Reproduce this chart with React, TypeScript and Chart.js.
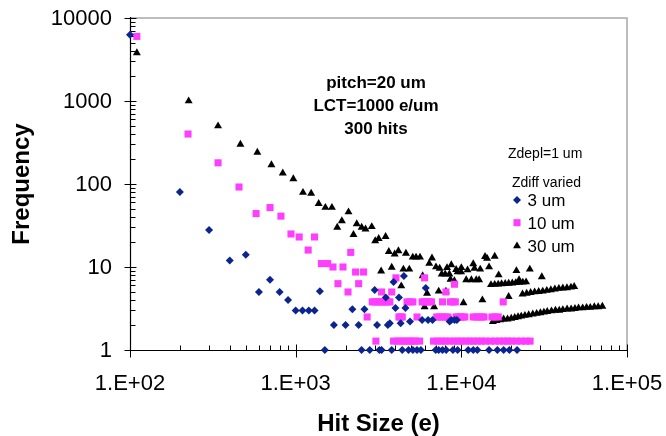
import React, { useEffect, useRef } from 'react';
import { Chart, registerables } from 'chart.js';

Chart.register(...registerables);

const FONT = "'Liberation Sans', Arial, Helvetica, sans-serif";

// ---- axis ticks ----
const xTickValues = [100, 1000, 10000, 100000];
const xTickLabels = ['1.E+02', '1.E+03', '1.E+04', '1.E+05'];
const yTickValues = [1, 10, 100, 1000, 10000];
const yTickLabels = ['1', '10', '100', '1000', '10000'];

// ---- text ----
const seriesNames = ['3 um', '10 um', '30 um'];
const noteLines = ['pitch=20 um', 'LCT=1000 e/um', '300 hits'];
const legendHeader = ['Zdepl=1 um', 'Zdiff varied'];
const xTitle = 'Hit Size (e)';
const yTitle = 'Frequency';

// ---- data: [hit size (e), frequency] ----
const points3um: number[][] = [
  [100, 6300], [200, 80], [300, 28], [400, 12], [500, 14], [600, 5], [700, 7], [800, 5], [900, 4], [1000, 3],
  [1100, 3], [1200, 3], [1300, 3], [1400, 5.1], [1500, 1], [1700, 2], [2000, 2], [2200, 3.1], [2400, 2], [2500, 1],
  [2600, 3.1], [2800, 1], [3000, 5.3], [3100, 2], [3200, 1], [3300, 1], [3500, 4.3], [3600, 2], [3700, 2.1], [3800, 1],
  [3900, 6.6], [4000, 3.2], [4200, 4.3], [4300, 2.1], [4400, 1], [4500, 7.8], [4600, 3.2], [4800, 1], [4900, 2.2], [5100, 1],
  [5400, 1], [5700, 1], [5800, 2.3], [6100, 5.6], [6300, 2.3], [6700, 2.3], [7000, 1], [7300, 1], [7700, 1], [8100, 1],
  [8500, 2.2], [8700, 2.3], [8900, 1], [9100, 2.3], [9400, 2.3], [9500, 1], [11000, 1], [11800, 1], [12500, 1], [14700, 1],
  [16500, 1], [18000, 1], [19500, 1], [21700, 1],
];

const points10um: number[][] = [
  [110, 6000], [224, 400], [340, 180], [455, 92], [577, 44], [700, 52], [815, 41], [937, 25], [1050, 23], [1190, 16],
  [1300, 23], [1430, 11], [1560, 11], [1680, 10], [1800, 6.3], [1930, 10], [2070, 5], [2150, 15], [2300, 8.7], [2400, 6.3],
  [2570, 8.7], [2700, 2.5],
  [2900, 3.8], [3000, 3.8], [3100, 3.8], [3200, 3.8], [3300, 3.8], [3400, 3.8], [3500, 3.8], [3600, 3.8], [3700, 3.8],
  [3050, 1.28], [3300, 5], [3800, 5], [4030, 7.4],
  [3900, 1.28], [4100, 1.28], [4300, 1.28], [4500, 1.28], [4700, 1.28], [4900, 1.28], [5100, 1.28], [5300, 1.28], [5600, 1.28],
  [4200, 2.5], [4300, 2.5], [4400, 2.5], [5400, 2.5],
  [4700, 3.8], [4900, 3.8], [5100, 3.8], [5800, 3.8], [6000, 3.8], [6200, 3.8], [6400, 3.8], [6600, 3.8], [7700, 3.8],
  [8600, 3.8], [8900, 3.8], [9200, 3.8], [17900, 3.8],
  [6000, 7.4], [8070, 5], [9100, 6.2],
  [7100, 2.5], [7400, 2.5], [7700, 2.5], [8000, 2.5], [8300, 2.5], [9300, 2.5], [9600, 2.5], [9900, 2.5], [10200, 2.5],
  [10500, 2.5], [11800, 2.5], [12300, 2.5], [12800, 2.5], [13300, 2.5], [13700, 2.5], [15300, 2.5], [16000, 2.5], [16700, 2.5],
  [6800, 1.28], [7200, 1.28], [7600, 1.28], [8000, 1.28], [8500, 1.28], [9000, 1.28], [9500, 1.28], [10000, 1.28],
  [10600, 1.28], [11200, 1.28], [11800, 1.28], [12500, 1.28], [13200, 1.28], [14000, 1.28], [15000, 1.28], [16000, 1.28],
  [17000, 1.28], [18000, 1.28], [19000, 1.28], [20000, 1.28], [21500, 1.28], [23000, 1.28], [24500, 1.28], [26000, 1.28],
];

const points30um: number[][] = [
  [110, 3800], [226, 1000], [340, 500], [464, 300], [587, 240], [714, 170], [836, 135], [968, 115], [1107, 79], [1240, 77],
  [1377, 58], [1511, 52], [1655, 52], [1782, 30], [1900, 36], [2084, 46], [2233, 24.5], [2337, 33], [2502, 30], [2640, 28.6],
  [2880, 30.5], [3021, 20.6], [3170, 22], [3280, 8.9], [3490, 23.2], [3650, 15.3], [3800, 9.9], [3960, 14.3], [4170, 15.6],
  [4340, 5.9], [4470, 9.4], [4630, 14.6], [4850, 9.4], [5090, 13.1], [5330, 13.1], [5630, 13.1], [5840, 7.8], [6000, 3.3],
  [6210, 4.8], [6400, 11], [6650, 12.8], [6850, 3.3], [7030, 10], [7300, 5.1], [7400, 9.6], [7610, 8.2], [7990, 8.2],
  [8070, 5.1], [8200, 9.8], [8470, 8.2], [8600, 7.1], [8700, 10.6], [9080, 6.8], [9300, 9.3], [9500, 8.7], [9970, 8.7],
  [10000, 9.8], [10300, 3.7], [10700, 7], [10900, 9.2], [11500, 7], [11800, 10.9], [12000, 9.6], [12300, 7], [12800, 7],
  [13000, 9.4], [13400, 4], [13900, 13.3], [14300, 12.7], [14700, 10], [15900, 13.4], [16800, 8], [19300, 4.4], [21500, 9],
  [22300, 7], [25900, 9.4], [30600, 7.6],
  [15100, 6.1], [15900, 6.15], [16700, 6.2], [17500, 6.25], [18400, 6.3], [19300, 6.35], [20300, 6.4], [21300, 6.45],
  [22400, 6.5], [23500, 6.55], [24600, 6.6],
  [23400, 4.7], [24800, 4.8], [26200, 4.9], [27700, 5.0], [29300, 5.05], [31000, 5.1], [32800, 5.2], [34700, 5.3],
  [36700, 5.4], [38800, 5.5], [41000, 5.55], [43400, 5.6], [45900, 5.7], [48000, 5.8],
  [15500, 2.2], [16300, 2.25], [17200, 2.3], [18000, 2.35], [19000, 2.35], [20000, 2.4], [21000, 2.45], [22000, 2.5],
  [23000, 2.55], [24200, 2.6], [25500, 2.65], [27000, 2.7], [28500, 2.75], [30000, 2.8], [31500, 2.85], [33000, 2.9],
  [35000, 2.95], [37000, 3.0], [39000, 3.0], [41000, 3.05], [43500, 3.1], [46000, 3.1], [48500, 3.15], [51000, 3.2],
  [54000, 3.2], [57000, 3.25], [60000, 3.25], [63500, 3.3], [67000, 3.3], [71000, 3.35],
];

// ---- styles ----
const COLORS = ['#0a2590', '#ff3dff', '#000000'];
const STYLES = ['rectRot', 'rect', 'triangle'];
const RADII = [4, 5, 4.6];

function drawMarker(ctx: CanvasRenderingContext2D, style: string, x: number, y: number, r: number) {
  ctx.beginPath();
  if (style === 'rectRot') {
    ctx.moveTo(x - r, y); ctx.lineTo(x, y - r); ctx.lineTo(x + r, y); ctx.lineTo(x, y + r);
  } else if (style === 'rect') {
    const s = r * Math.SQRT1_2;
    ctx.rect(x - s, y - s, 2 * s, 2 * s);
  } else {
    const a = Math.sin(Math.PI / 3) * r;
    ctx.moveTo(x, y - r); ctx.lineTo(x + a, y + r / 2); ctx.lineTo(x - a, y + r / 2);
  }
  ctx.closePath();
  ctx.fill();
}

const decor = {
  id: 'decor',
  beforeDatasetsDraw(chart: any) {
    const { ctx, chartArea: a, scales } = chart;
    const xs = scales.x, ys = scales.y;
    ctx.save();
    // top / right frame
    ctx.strokeStyle = '#a8a8a8';
    ctx.lineWidth = 1.5;
    ctx.beginPath();
    ctx.moveTo(a.left, a.top);
    ctx.lineTo(a.right, a.top);
    ctx.lineTo(a.right, a.bottom);
    ctx.stroke();
    // axes
    ctx.strokeStyle = '#000';
    ctx.lineWidth = 1.2;
    const L = Math.round(a.left) + 0.5;
    const B = Math.round(a.bottom) + 0.5;
    ctx.beginPath();
    ctx.moveTo(L, a.top - 1); ctx.lineTo(L, B);
    ctx.lineTo(a.right + 1, B);
    ctx.stroke();
    // tick marks
    ctx.lineWidth = 1;
    ctx.beginPath();
    for (let k = 0; k <= 4; k++) {
      for (let m = 1; m <= 9; m++) {
        const v = m * Math.pow(10, k);
        if (v > 10000) break;
        const p = Math.round(ys.getPixelForValue(v)) + 0.5;
        if (m === 1) { ctx.moveTo(L - 6, p); ctx.lineTo(L + 6, p); }
        else { ctx.moveTo(L, p); ctx.lineTo(L + 5, p); }
      }
    }
    for (let k = 2; k <= 5; k++) {
      for (let m = 1; m <= 9; m++) {
        const v = m * Math.pow(10, k);
        if (v > 100000) break;
        const p = Math.round(xs.getPixelForValue(v)) + 0.5;
        if (m === 1) { ctx.moveTo(p, B - 6); ctx.lineTo(p, B + 7); }
        else { ctx.moveTo(p, B - 5); ctx.lineTo(p, B); }
      }
    }
    ctx.stroke();
    // tick labels
    ctx.fillStyle = '#000';
    ctx.font = `22px ${FONT}`;
    ctx.textBaseline = 'middle';
    ctx.textAlign = 'right';
    yTickValues.forEach((v, i) => ctx.fillText(yTickLabels[i], a.left - 18, ys.getPixelForValue(v) + 1));
    ctx.textAlign = 'center';
    xTickValues.forEach((v, i) => ctx.fillText(xTickLabels[i], xs.getPixelForValue(v), a.bottom + 34));
    ctx.restore();
  },
  afterDraw(chart: any) {
    const { ctx } = chart;
    ctx.save();
    ctx.fillStyle = '#000';
    ctx.textBaseline = 'alphabetic';
    // note
    ctx.font = `bold 17px ${FONT}`;
    ctx.textAlign = 'center';
    const noteY = [88, 111, 133.5];
    noteLines.forEach((t, i) => ctx.fillText(t, 376, noteY[i]));
    // legend header
    ctx.textAlign = 'left';
    ctx.font = `14px ${FONT}`;
    ctx.fillText(legendHeader[0], 508, 158);
    ctx.fillText(legendHeader[1], 512, 187);
    // legend entries
    const rowY = [200, 222.7, 246];
    ctx.font = `17px ${FONT}`;
    seriesNames.forEach((name, i) => {
      ctx.fillStyle = COLORS[i];
      drawMarker(ctx, STYLES[i], 517, rowY[i], RADII[i]);
      ctx.fillStyle = '#000';
      ctx.fillText(name, 527.5, rowY[i] + 6);
    });
    ctx.restore();
  },
};

export default function App() {
  const ref = useRef<HTMLCanvasElement>(null);
  useEffect(() => {
    const canvas = ref.current!;
    const all = [points3um, points10um, points30um];
    const chart = new Chart(canvas, {
      type: 'scatter',
      data: {
        datasets: all.map((pts, i) => ({
          label: seriesNames[i],
          data: pts.map(([x, y]) => ({ x, y })),
          pointStyle: STYLES[i] as any,
          pointRadius: RADII[i],
          pointBackgroundColor: COLORS[i],
          pointBorderColor: COLORS[i],
          pointBorderWidth: 0,
          showLine: false,
          clip: false as any,
        })),
      },
      options: {
        responsive: false,
        animation: false,
        devicePixelRatio: 1,
        layout: { padding: { top: 18, right: 39, left: 0, bottom: 0 } },
        plugins: { legend: { display: false }, tooltip: { enabled: false } },
        scales: {
          x: {
            type: 'logarithmic',
            min: 100,
            max: 100000,
            position: 'bottom',
            afterFit: (s: any) => { s.height = 86; s.paddingLeft = 0; s.paddingRight = 0; },
            afterBuildTicks: (s: any) => { s.ticks = xTickValues.map((v) => ({ value: v })); },
            ticks: { display: false },
            grid: { display: false, drawTicks: false },
            border: { display: false },
            title: {
              display: true,
              text: xTitle,
              color: '#000',
              font: { size: 24, weight: 'bold', family: FONT },
              padding: { top: 0, bottom: -3 },
            },
          },
          y: {
            type: 'logarithmic',
            min: 1,
            max: 10000,
            position: 'left',
            afterFit: (s: any) => { s.width = 130; s.paddingTop = 0; s.paddingBottom = 0; },
            afterBuildTicks: (s: any) => { s.ticks = yTickValues.map((v) => ({ value: v })); },
            ticks: { display: false },
            grid: { display: false, drawTicks: false },
            border: { display: false },
            title: {
              display: true,
              text: yTitle,
              color: '#000',
              font: { size: 24, weight: 'bold', family: FONT },
              padding: { top: 8, bottom: 0 },
            },
          },
        },
      } as any,
      plugins: [decor],
    });
    return () => chart.destroy();
  }, []);
  return (
    <div style={{ position: 'absolute', left: 0, top: 0, width: 666, height: 436, background: '#fff' }}>
      <canvas ref={ref} width={666} height={436} style={{ display: 'block' }} />
    </div>
  );
}
